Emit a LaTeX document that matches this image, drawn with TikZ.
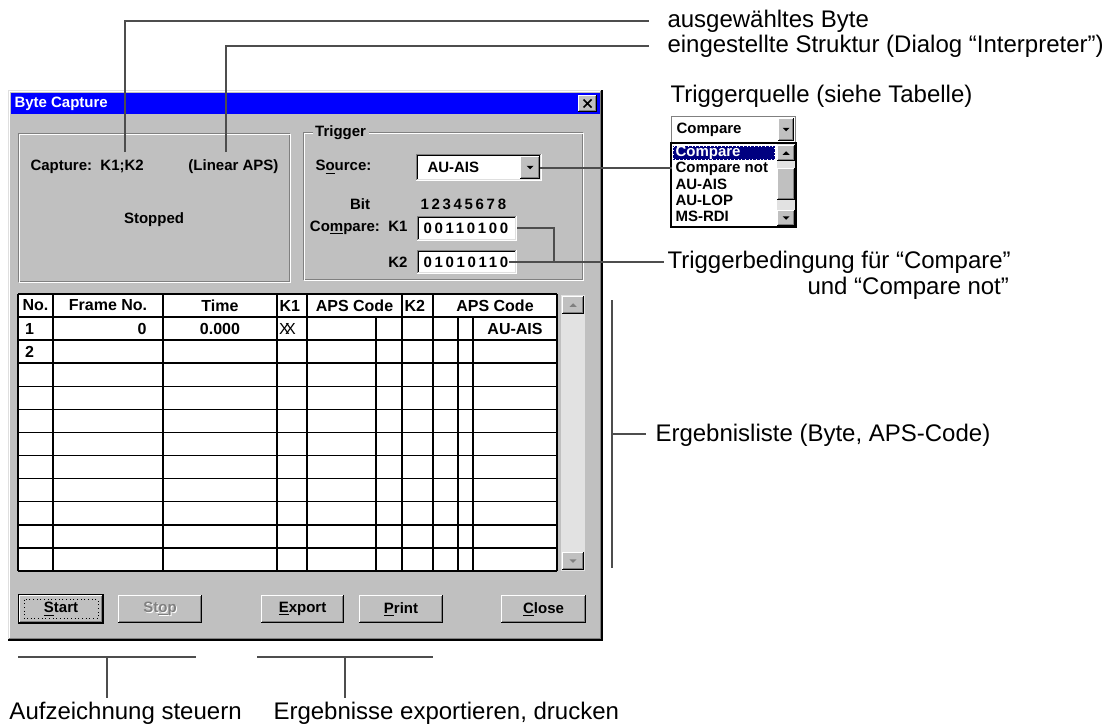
\documentclass[tikz,border=0pt]{standalone}
\usepackage{fontspec}
\setmainfont{Liberation Sans}
\newfontfamily\spacedfont{Liberation Sans}[LetterSpace=18]
\usetikzlibrary{calc}
\definecolor{winface}{HTML}{C0C0C0}
\definecolor{winshadow}{HTML}{808080}
\definecolor{winlight}{HTML}{DFDFDF}
\definecolor{titleblue}{HTML}{0000FF}
\definecolor{navy}{HTML}{000080}
\definecolor{leadgray}{HTML}{4D4D4D}
\definecolor{track}{HTML}{E2E2E2}
\newcommand\annsize{\fontsize{18pt}{22pt}\selectfont}
\newcommand\dlgsize{\bfseries\fontsize{11.25pt}{13pt}\selectfont}
\newcommand\tabsize{\bfseries\fontsize{12pt}{14pt}\selectfont}
\newcommand\spacedsize{\spacedfont\bfseries\fontsize{11.25pt}{13pt}\selectfont}
\newcommand\winraised[4]{%
  \fill[winface] (#1,#2) rectangle (#3,#4);
  \draw[white] (#1+0.5,#4-1) -- (#1+0.5,#2+0.5) -- (#3-1,#2+0.5);
  \draw[black] (#1,#4-0.5) -- (#3-0.5,#4-0.5) -- (#3-0.5,#2);
  \draw[winshadow] (#1+1,#4-1.5) -- (#3-1.5,#4-1.5) -- (#3-1.5,#2+1);
}
\newcommand\winsunken[4]{%
  \fill[white] (#1,#2) rectangle (#3,#4);
  \draw[winshadow] (#1+0.5,#4-1) -- (#1+0.5,#2+0.5) -- (#3-1,#2+0.5);
  \draw[black] (#1+1.5,#4-2) -- (#1+1.5,#2+1.5) -- (#3-2,#2+1.5);
  \draw[white] (#1,#4-0.5) -- (#3-0.5,#4-0.5) -- (#3-0.5,#2);
  \draw[winlight] (#1+1,#4-1.5) -- (#3-1.5,#4-1.5) -- (#3-1.5,#2+1);
}
\newcommand\downtri[3]{\fill[#3] (#1-3.5,#2-1.75) -- (#1+3.5,#2-1.75) -- (#1,#2+1.75) -- cycle;}
\newcommand\uptri[3]{\fill[#3] (#1-3.5,#2+1.75) -- (#1+3.5,#2+1.75) -- (#1,#2-1.75) -- cycle;}
\begin{document}
\begin{tikzpicture}[x=0.75pt,y=-0.75pt,line width=0.75pt,
  lead/.style={draw=leadgray,line width=1.9pt},
  ann/.style={font=\annsize,anchor=west,inner sep=0pt},
  dlg/.style={font=\dlgsize,inner sep=0pt},
  tab/.style={font=\tabsize,inner sep=0pt},
  grid/.style={draw=black,line width=1.1pt}]
\useasboundingbox (0,0) rectangle (1112,725);

% ---------- window ----------
\fill[winface] (8,90) rectangle (603,641);
\draw[winlight] (8.5,640) -- (8.5,90.5) -- (602,90.5);
\draw[white] (9.5,639) -- (9.5,91.5) -- (601,91.5);
\draw[black,line width=1.5pt] (8,640) -- (602,640) -- (602,90);
\draw[winshadow] (9,638.5) -- (600.5,638.5) -- (600.5,91);

% title bar
\fill[titleblue] (11,93) rectangle (600,114);
\node[dlg,text=white,anchor=west] (title) at (14,103.5) {Byte Capture};
\winraised{578}{95}{597}{112}
\draw[line width=1.3pt] (583.5,99.5) -- (591.5,107.5) (583.5,107.5) -- (591.5,99.5);

% left group
\draw[winshadow] (18,133) rectangle (289,281);
\draw[white] (19,134) rectangle (290,282);
\node[dlg,anchor=west] (capture) at (30,167) {Capture:\ \ K1;K2};
\node[dlg,anchor=east] (linear) at (279,167) {(Linear APS)};
\node[dlg] (stopped) at (154,220) {Stopped};

% trigger group
\draw[winshadow] (303,132) rectangle (582,279);
\draw[white] (304,133) rectangle (583,280);
\node[dlg,fill=winface,inner xsep=2pt,anchor=west] (trig) at (312,132.5) {Trigger};
\node[dlg,anchor=west] (source) at (315,167) {S\underline{o}urce:};
\winsunken{416}{154}{542}{181}
\node[dlg,anchor=west] (srcval) at (427,167.5) {AU-AIS};
\winraised{520}{156}{540}{179}
\downtri{530}{167.5}{black}
\node[dlg] (bit) at (360,204) {Bit};
\node[font=\spacedsize,inner sep=0pt,anchor=west] (bits) at (420,204) {12345678};
\node[dlg,anchor=east] (cmplbl) at (408,228) {Co\underline{m}pare:\ \ K1};
\winsunken{417}{216}{517}{241}
\node[font=\spacedsize,inner sep=0pt,anchor=west] (k1val) at (423,228.5) {00110100};
\node[dlg,anchor=east] (k2lbl) at (408,262) {K2};
\winsunken{417}{250}{517}{274}
\node[font=\spacedsize,inner sep=0pt,anchor=west] (k2val) at (423,262.5) {01010110};

% ---------- table ----------
\fill[white] (18,294) rectangle (557,571);
\draw[grid] (18,294) -- (557,294);
\foreach \i in {0,...,11} {\draw[grid] (18,317+23.0909*\i) -- (557,317+23.0909*\i);}
\foreach \x in {18,53,163,277,307,402,433,557} {\draw[grid] (\x,294) -- (\x,571);}
\foreach \x in {376,458,473} {\draw[grid] (\x,317) -- (\x,571);}
\node[tab,anchor=west] (hno) at (22,305.5) {No.};
\node[tab] (hframe) at (108,305.5) {Frame No.};
\node[tab] (htime) at (220,305.5) {Time};
\node[tab,anchor=west] (hk1) at (279,305.5) {K1};
\node[tab] (haps1) at (354.5,305.5) {APS Code};
\node[tab,anchor=west] (hk2) at (404,305.5) {K2};
\node[tab] (haps2) at (495,305.5) {APS Code};
\node[tab] (r1no) at (29.5,329) {1};
\node[tab,anchor=east] (r1frame) at (147,329) {0};
\node[tab] (r1time) at (220,329) {0.000};
\node[font=\fontsize{12pt}{12pt}\selectfont,inner sep=0pt,anchor=west] (r1k1) at (278.5,329) {X\kern-3.5pt X};
\node[tab] (r1aps) at (515,329) {AU-AIS};
\node[tab] (r2no) at (29.5,352) {2};

% table scrollbar
\fill[track] (561,295) rectangle (585,571);
\winraised{562}{296}{584}{314}
\uptri{573}{305}{winshadow}
\winraised{562}{552}{584}{570}
\downtri{573}{561}{winshadow}

% ---------- buttons ----------
\winraised{19}{595}{103}{623}
\draw[black] (18.5,594.5) rectangle (103.5,623.5);
\draw[black,dotted] (24,599.5) rectangle (98,618.5);
\node[dlg] (bstart) at (61,609) {\underline{S}tart};
\winraised{118}{595}{202}{623}
\node[dlg,text=white] (bstopsh) at (161,610) {St\underline{o}p};
\node[dlg,text=winshadow] (bstop) at (160,609) {St\underline{o}p};
\winraised{261}{595}{344}{623}
\node[dlg] (bexport) at (302.5,609) {\underline{E}xport};
\winraised{359}{595}{443}{623}
\node[dlg] (bprint) at (401,609) {\underline{P}rint};
\winraised{501}{595}{586}{623}
\node[dlg] (bclose) at (543.5,609) {\underline{C}lose};

% ---------- dropdown illustration ----------
\fill[white] (671,116) rectangle (796,227);
\draw[winshadow] (671.5,116.5) rectangle (795.5,143);
\node[dlg,anchor=west] (combotext) at (676,130) {Compare};
\winraised{778}{118}{794}{141}
\downtri{786}{129.5}{black}
\fill[track] (777,144) rectangle (795,226);
\fill[navy] (673,146) rectangle (775,160);
\draw[white,dotted] (673.5,146.5) rectangle (774.5,159.5);
\node[dlg,text=white,anchor=west] (itcmp) at (675,153) {Compare};
\node[dlg,anchor=west] (itcmpnot) at (675,168.5) {Compare not};
\node[dlg,anchor=west] (itauais) at (675,184) {AU-AIS};
\node[dlg,anchor=west] (itaulop) at (675,200) {AU-LOP};
\node[dlg,anchor=west] (itmsrdi) at (675,216) {MS-RDI};
\winraised{777}{145}{795}{161}
\uptri{786}{153}{black}
\winraised{777}{168}{795}{200}
\winraised{777}{210}{795}{226}
\downtri{786}{218}{black}
\draw[black,line width=1pt] (671,143) rectangle (796,227);

% ---------- annotations ----------
\node[ann] (tByte) at (667,21) {ausgewähltes Byte};
\node[ann] (tStruct) at (667,46) {eingestellte Struktur (Dialog “Interpreter”)};
\node[ann] (tSrc) at (670,96) {Triggerquelle (siehe Tabelle)};
\node[ann] (tCond1) at (667,262) {Triggerbedingung für “Compare”};
\node[ann] (tCond2) at (807,288) {und “Compare not”};
\node[ann] (tList) at (655,435) {Ergebnisliste (Byte, APS-Code)};
\node[ann] (tRec) at (9,713) {Aufzeichnung steuern};
\node[ann] (tExp) at (273,713) {Ergebnisse exportieren, drucken};

\coordinate (selByte) at (125,152);
\coordinate (byteEnd) at (649,21);
\coordinate (structPt) at (226,152);
\coordinate (structEnd) at (649,46);
\coordinate (srcBtn) at (540,168);
\coordinate (listPt) at (672,168);
\coordinate (k1End) at (517,228);
\coordinate (cJoin) at (554,262);
\coordinate (k2Start) at (509,262);
\coordinate (k2End) at (664,262);
\coordinate (resTop) at (612,300);
\coordinate (resBot) at (612,568);
\coordinate (resMid) at (612,434);
\coordinate (resTick) at (646,434);
\coordinate (b1l) at (18,657);
\coordinate (b1r) at (196,657);
\coordinate (b1m) at (107,657);
\coordinate (b1d) at (107,698);
\coordinate (b2l) at (257,657);
\coordinate (b2r) at (433,657);
\coordinate (b2m) at (345,657);
\coordinate (b2d) at (345,698);

\draw[lead] (selByte) |- (byteEnd);
\draw[lead] (structPt) |- (structEnd);
\draw[lead] (srcBtn) -- (listPt);
\draw[lead] (k1End) -| (cJoin);
\draw[lead] (k2Start) -- (k2End);
\draw[lead] (resTop) -- (resBot);
\draw[lead] (resMid) -- (resTick);
\draw[lead] (b1l) -- (b1r);
\draw[lead] (b1m) -- (b1d);
\draw[lead] (b2l) -- (b2r);
\draw[lead] (b2m) -- (b2d);
\end{tikzpicture}
\end{document}
